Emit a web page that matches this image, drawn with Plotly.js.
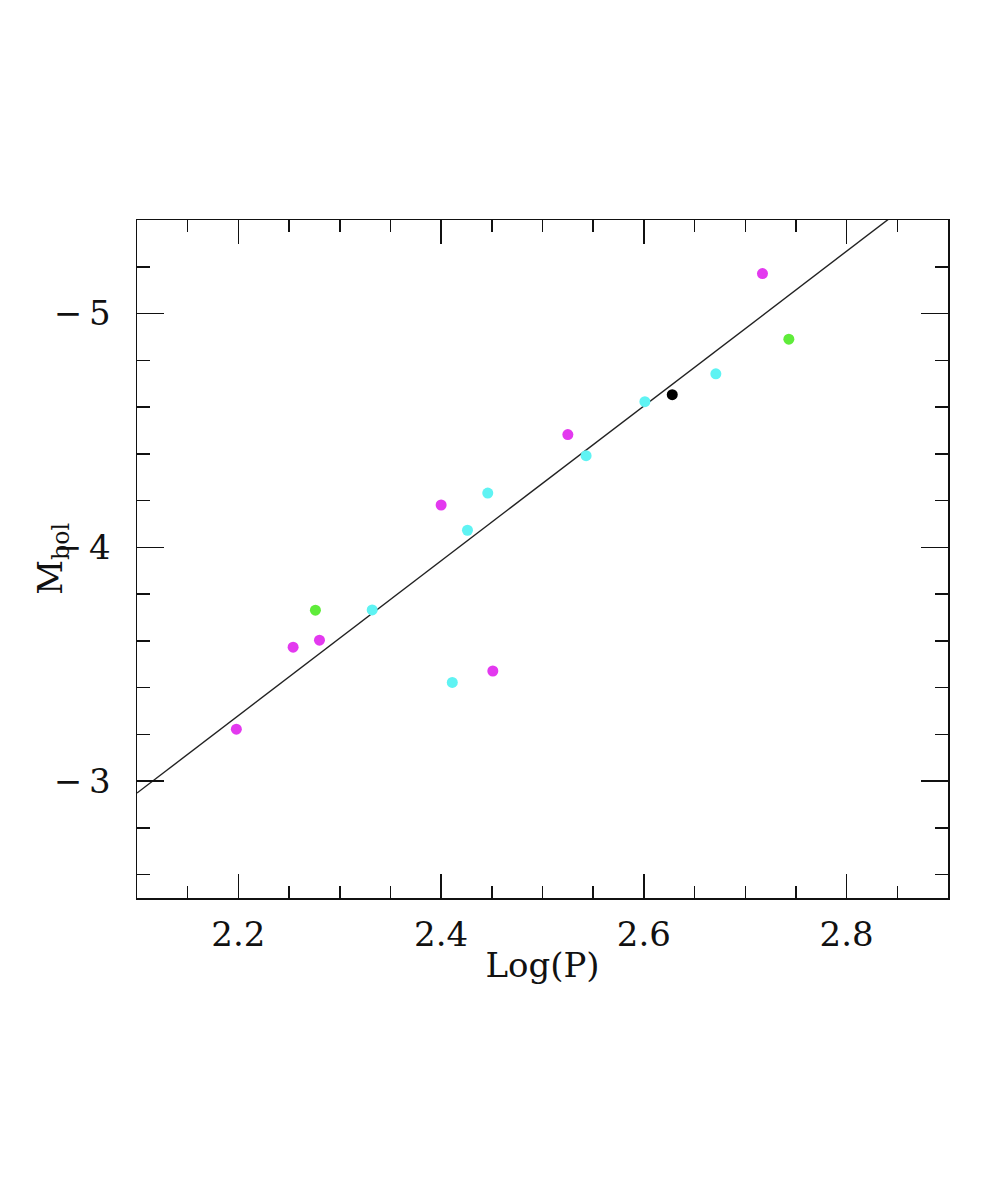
<!DOCTYPE html>
<html>
<head>
<meta charset="utf-8">
<script src="https://cdn.plot.ly/plotly-3.0.1.min.js"></script>
<style>
  body { margin: 0; background: #fff; }
  #chart { width: 1006px; height: 1190px; }
</style>
</head>
<body>
<div id="chart"></div>
<script>
// points, grouped by colour
const magentaX = [2.198, 2.254, 2.280, 2.400, 2.451, 2.525, 2.717];
const magentaY = [-3.222, -3.573, -3.603, -4.181, -3.471, -4.482, -5.171];
const greenX = [2.276, 2.743];
const greenY = [-3.731, -4.890];
const cyanX = [2.332, 2.411, 2.426, 2.446, 2.543, 2.601, 2.671];
const cyanY = [-3.732, -3.422, -4.073, -4.232, -4.392, -4.623, -4.742];
const blackX = [2.628];
const blackY = [-4.653];

// fitted line  Mbol = fitA + fitB * (logP - 2.1)
const fitA = -2.949;
const fitB = -3.311;
const fitX = [2.1, 2.9];

const xTickVals = [2.2, 2.4, 2.6, 2.8];
const xTickText = ["2.2", "2.4", "2.6", "2.8"];
const yTickVals = [-5, -4, -3];
const yTickText = ["\u2212\u20095", "\u2212\u20094", "\u2212\u20093"];

const font = "DejaVu Serif, serif";

function dots(x, y, color) {
  return {
    x: x,
    y: y,
    type: "scatter",
    mode: "markers",
    marker: { color: color, size: 11, line: { width: 0 } },
    showlegend: false,
  };
}

const traces = [
  {
    x: fitX,
    y: fitX.map((v) => fitA + fitB * (v - 2.1)),
    type: "scatter",
    mode: "lines",
    line: { color: "#222", width: 1.4 },
    showlegend: false,
  },
  dots(magentaX, magentaY, "#e339ef"),
  dots(greenX, greenY, "#5fec3a"),
  dots(cyanX, cyanY, "#5ff3f3"),
  dots(blackX, blackY, "#000000"),
];

const layout = {
  width: 1006,
  height: 1190,
  margin: { l: 137, r: 58, t: 220, b: 292 },
  paper_bgcolor: "#fff",
  plot_bgcolor: "#fff",
  font: { family: font, color: "#111", size: 32 },
  xaxis: {
    range: [2.1, 2.9],
    tickvals: xTickVals,
    ticktext: xTickText,
    ticks: "inside",
    ticklen: 24,
    tickwidth: 1.5,
    tickcolor: "#111",
    minor: { dtick: 0.05, tick0: 2.1, ticks: "inside", ticklen: 12, tickwidth: 1.5, tickcolor: "#111" },
    showline: true,
    linewidth: 1.5,
    linecolor: "#111",
    mirror: "ticks",
    showgrid: false,
    zeroline: false,
    ticklabelstandoff: 6,
    tickfont: { family: font, size: 34 },
    title: { text: "Log(P)", font: { family: font, size: 34 }, standoff: 0 },
  },
  yaxis: {
    range: [-2.5, -5.4],
    tickvals: yTickVals,
    ticktext: yTickText,
    ticks: "inside",
    ticklen: 27,
    tickwidth: 1.5,
    tickcolor: "#111",
    minor: { dtick: 0.2, tick0: -5, ticks: "inside", ticklen: 13, tickwidth: 1.5, tickcolor: "#111" },
    showline: true,
    linewidth: 1.5,
    linecolor: "#111",
    mirror: "ticks",
    showgrid: false,
    zeroline: false,
    ticklabelstandoff: 18,
    tickfont: { family: font, size: 34 },
  },
  annotations: [
    {
      text: "M<sub>bol</sub>",
      xref: "paper",
      yref: "paper",
      x: -0.105,
      y: 0.5,
      xanchor: "center",
      yanchor: "middle",
      textangle: -90,
      showarrow: false,
      font: { family: font, size: 34 },
    },
  ],
};

Plotly.newPlot("chart", traces, layout, { staticPlot: true });
</script>
</body>
</html>
